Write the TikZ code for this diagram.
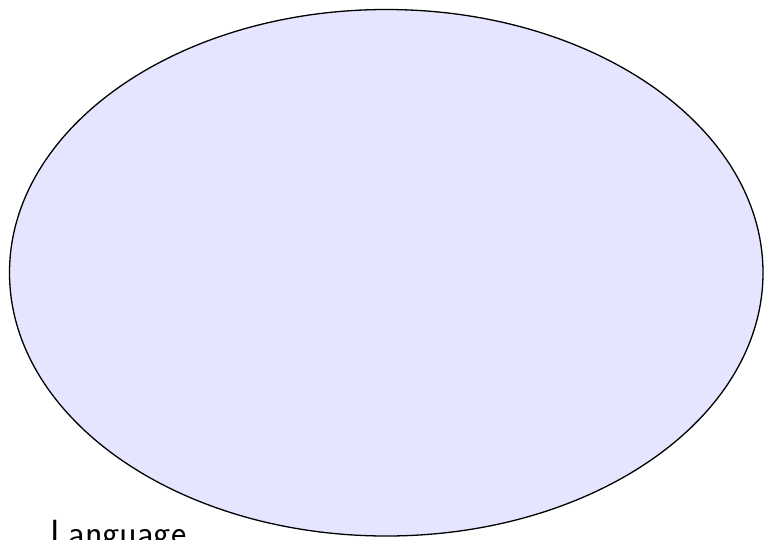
\documentclass[tikz,border=0pt]{standalone}
\usepackage{fontspec}
\begin{document}
\begin{tikzpicture}[x=1pt,y=-1pt,
  blob/.style={draw=black,line width=1.3pt,fill=blue!10},
  lbl/.style={inner sep=0pt,anchor=base west,font=\sffamily\fontsize{36.4}{40}\selectfont}]
\useasboundingbox (0,0) rectangle (766,539);
\clip (0,0) rectangle (766,539);
\path[blob] (386.25,272.75) ellipse [x radius=376.75, y radius=263.25];
\node[lbl] (lang) at (50,545) {Language};
\end{tikzpicture}
\end{document}
